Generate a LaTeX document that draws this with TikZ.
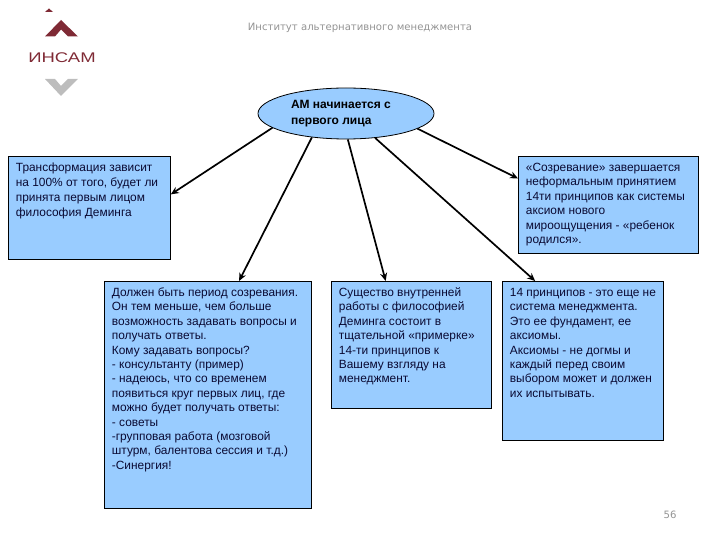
\documentclass[tikz,border=0pt]{standalone}
\usepackage{fontspec}
\setmainfont{Liberation Sans}
\newfontfamily\headfont{DejaVu Sans}
\usetikzlibrary{shapes.geometric,arrows.meta,calc}
\definecolor{panelblue}{HTML}{99CCFF}
\definecolor{inktext}{HTML}{0A0A33}
\definecolor{logored}{HTML}{7F2A35}
\definecolor{logogrey}{HTML}{BDBDBD}
\newcommand{\paneltext}[4][14.4]{\parbox[t][#3pt][t]{#2pt}{\raggedright\fontsize{11.9}{#1}\selectfont\color{inktext}\vspace*{5pt}\strut #4}}
\tikzset{
  panel/.style={draw=black,line width=0.8pt,fill=panelblue,rectangle,anchor=north west,inner xsep=7.5pt,inner ysep=0pt},
  hub/.style={draw=black,line width=0.8pt,fill=panelblue,ellipse,minimum width=176pt,minimum height=51pt,inner sep=0pt},
  link/.style={draw=black,line width=1.7pt,-{Stealth[length=8pt,width=7pt]}},
  greytext/.style={text=gray!85,font=\headfont\fontsize{10.1}{12}\selectfont}
}
\begin{document}
\begin{tikzpicture}[x=1pt,y=-1pt]
\useasboundingbox (0,0) rectangle (720,540);
% logo
\fill[logored] (45,12) -- (49,8.5) -- (53,12) -- cycle;
\fill[logored] (45,36.5) -- (61,20) -- (78,36.5) -- (68,36.5) -- (61,29.5) -- (55,36.5) -- cycle;
\node[text=logored,inner sep=0pt,font=\fontsize{14}{14}\selectfont,xscale=1.32] (logoword) at (62,58) {ИНСАМ};
\fill[logogrey] (45,79) -- (55,79) -- (61,86) -- (68,79) -- (78,79) -- (61,96) -- cycle;
% header and page number
\node[greytext,inner sep=0pt] (title) at (360,27.5) {Институт альтернативного менеджмента};
\node[greytext,inner sep=0pt] (pageno) at (670,515) {56};
% hub
\node[hub] (hubnode) at (346,113.5) {\parbox{110pt}{\raggedright\fontsize{12}{16}\selectfont\bfseries\color{black}АМ начинается с\\первого лица}};
% panels
\node[panel] (pa) at (8,156) {\paneltext[15]{147}{103}{Трансформация зависит\\на 100\% от того, будет ли\\принята первым лицом\\философия Деминга}};
\node[panel] (pb) at (104,281) {\paneltext{192}{227}{Должен быть период созревания.\\Он тем меньше, чем больше\\возможность задавать вопросы и\\получать ответы.\\Кому задавать вопросы?\\- консультанту (пример)\\- надеюсь, что со временем\\появиться круг первых лиц, где\\можно будет получать ответы:\\- советы\\-групповая работа (мозговой\\штурм, балентова сессия и т.д.)\\-Синергия!}};
\node[panel] (pc) at (331,281) {\paneltext{145}{127}{Существо внутренней\\работы с философией\\Деминга состоит в\\тщательной «примерке»\\14-ти принципов к\\Вашему взгляду на\\менеджмент.}};
\node[panel] (pd) at (502,281) {\paneltext{146}{159}{14 принципов - это еще не\\система менеджмента.\\Это ее фундамент, ее\\аксиомы.\\Аксиомы - не догмы и\\каждый перед своим\\выбором может и должен\\их испытывать.}};
\node[panel] (pe) at (518,156) {\paneltext{165}{97}{«Созревание» завершается\\неформальным принятием\\14ти принципов как системы\\аксиом нового\\мироощущения - «ребенок\\родился».}};
% connectors
\draw[link] (hubnode.191) -- ($(pa.north east)!0.37!(pa.south east)$);
\draw[link] (hubnode.215) -- ($(pb.north west)!0.65!(pb.north east)$);
\draw[link] (hubnode.274) -- ($(pc.north west)!0.34!(pc.north east)$);
\draw[link] (hubnode.-40) -- ($(pd.north west)!0.205!(pd.north east)$);
\draw[link] (hubnode.-12) -- ($(pe.north west)!0.23!(pe.south west)$);
\end{tikzpicture}
\end{document}
